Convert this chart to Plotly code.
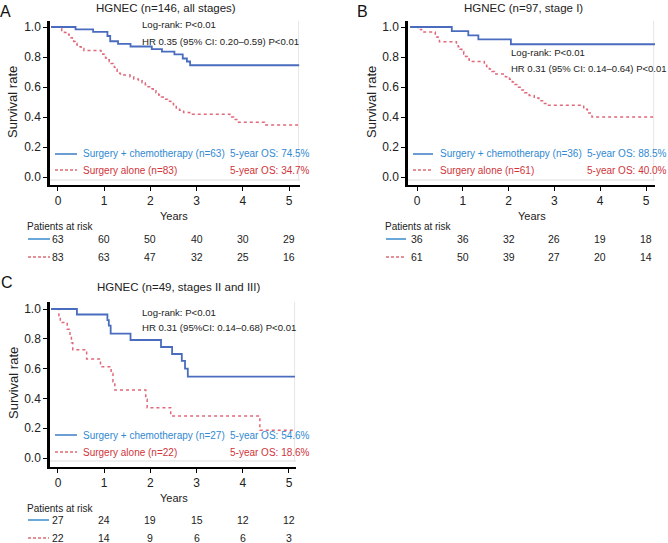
import plotly.graph_objects as go

W, H = 668, 543
FONT = "Liberation Sans, Arial, Helvetica, sans-serif"

# ---------------- data ----------------
years = [0, 1, 2, 3, 4, 5]
y_ticks = [0.0, 0.2, 0.4, 0.6, 0.8, 1.0]

# Panel A: all stages
tA_chemo = [-0.15, 0.38, 0.76, 1.07, 1.13, 1.30, 1.57, 2.03, 2.25, 2.52, 2.70, 2.79, 2.86, 5.22]
sA_chemo = [1.0, 0.984, 0.968, 0.94, 0.905, 0.888, 0.870, 0.853, 0.836, 0.818, 0.79, 0.77, 0.745, 0.745]
tA_surg = [-0.15, 0.03, 0.08, 0.14, 0.19, 0.24, 0.28, 0.31, 0.34, 0.37, 0.41, 0.45, 0.50, 0.56,
           0.93, 0.97, 1.00, 1.03, 1.07, 1.11, 1.15, 1.19, 1.22, 1.25, 1.28, 1.31, 1.35, 1.56,
           1.64, 1.74, 1.82, 1.89, 1.95, 2.00, 2.06, 2.12, 2.18, 2.24, 2.30, 2.37, 2.44, 2.50,
           2.56, 2.63, 2.72, 2.85, 3.72, 3.80, 3.87, 4.47, 5.22]
sA_surg = [1.0, 0.988, 0.976, 0.964, 0.952, 0.940, 0.928, 0.916, 0.904, 0.892, 0.880, 0.868, 0.856, 0.843,
           0.831, 0.819, 0.806, 0.794, 0.781, 0.769, 0.756, 0.744, 0.731, 0.718, 0.705, 0.692, 0.680, 0.667,
           0.654, 0.641, 0.628, 0.615, 0.602, 0.588, 0.575, 0.561, 0.547, 0.533, 0.519, 0.505, 0.490, 0.475,
           0.460, 0.445, 0.430, 0.418, 0.400, 0.383, 0.365, 0.347, 0.347]
riskA_chemo = [63, 60, 50, 40, 30, 29]
riskA_surg = [83, 63, 47, 32, 25, 16]

# Panel B: stage I
tB_chemo = [-0.15, 0.76, 1.12, 1.34, 2.05, 5.2]
sB_chemo = [1.0, 0.972, 0.944, 0.917, 0.885, 0.885]
tB_surg = [-0.15, 0.02, 0.10, 0.40, 0.43, 0.46, 0.49, 0.86, 0.90, 0.94, 0.98, 1.02, 1.06, 1.10, 1.14,
           1.47, 1.52, 1.58, 1.64, 1.69, 1.93, 2.02, 2.08, 2.14, 2.20, 2.27, 2.35, 2.45, 2.56, 2.66,
           2.76, 2.85, 3.64, 3.72, 3.82, 5.2]
sB_surg = [1.0, 0.984, 0.967, 0.951, 0.934, 0.918, 0.902, 0.885, 0.869, 0.852, 0.836, 0.820, 0.803, 0.787, 0.770,
           0.754, 0.737, 0.720, 0.703, 0.686, 0.669, 0.652, 0.634, 0.616, 0.598, 0.580, 0.562, 0.544, 0.526, 0.508,
           0.490, 0.478, 0.452, 0.426, 0.400, 0.400]
riskB_chemo = [36, 36, 32, 26, 19, 18]
riskB_surg = [61, 50, 39, 27, 20, 14]

# Panel C: stages II and III
tC_chemo = [-0.15, 0.41, 1.07, 1.10, 1.14, 1.57, 2.23, 2.47, 2.68, 2.75, 2.81, 5.13]
sC_chemo = [1.0, 0.963, 0.926, 0.889, 0.835, 0.792, 0.745, 0.698, 0.652, 0.600, 0.546, 0.546]
tC_surg = [-0.15, 0.02, 0.05, 0.20, 0.26, 0.29, 0.32, 0.62, 0.92, 1.15, 1.19, 1.23, 1.90, 1.93, 2.44, 4.37, 5.13]
sC_surg = [1.0, 0.955, 0.909, 0.864, 0.818, 0.773, 0.727, 0.665, 0.613, 0.567, 0.511, 0.456, 0.395, 0.338,
           0.282, 0.186, 0.186]
riskC_chemo = [27, 24, 19, 15, 12, 12]
riskC_surg = [22, 14, 9, 6, 6, 3]

titles = ["HGNEC (n=146, all stages)", "HGNEC (n=97, stage I)", "HGNEC (n=49, stages II and III)"]
letters = ["A", "B", "C"]
logrank = ["Log-rank: P<0.01", "Log-rank: P<0.01", "Log-rank: P<0.01"]
hr_text = ["HR 0.35 (95% CI: 0.20–0.59) P<0.01", "HR 0.31 (95% CI: 0.14–0.64) P<0.01",
           "HR 0.31 (95%CI: 0.14–0.68) P<0.01"]
leg_chemo = ["Surgery + chemotherapy (n=63)", "Surgery + chemotherapy (n=36)", "Surgery + chemotherapy (n=27)"]
leg_surg = ["Surgery alone (n=83)", "Surgery alone (n=61)", "Surgery alone (n=22)"]
os_chemo = ["5-year OS: 74.5%", "5-year OS: 88.5%", "5-year OS: 54.6%"]
os_surg = ["5-year OS: 34.7%", "5-year OS: 40.0%", "5-year OS: 18.6%"]

# ---------------- style ----------------
BLUE_CURVE = "#4a6cbf"
RED_CURVE = "#e0687a"
BLUE_TXT = "#3189d2"
RED_TXT = "#d0343a"
BLUE_LEG = "#3a7cc4"
RED_LEG = "#c8242c"
BLUE_RISK = "#5a9fd6"
TXT = "#222222"
SMALL_DASH = "3px,2px"


def PX(x):
    return x / W


def PY(y):
    return 1 - y / H


# layout geometry per panel (pixels)
geo = [
    dict(xl=50, xr=300, yt=21, yb=185, xr0=-0.173, xr1=5.238, yr0=-0.0533, yr1=1.04,
         title=(166, 8), letter=(5, 12), ylab=(13, 102), years=(174, 216), par=(25, 227),
         r1=239, r2=257, rl=(28, 50), lr=(140, 25, 41), leg=(55, 77, 81, 228, 154, 170)),
    dict(xl=408, xr=655, yt=21, yb=185, xr0=-0.1965, xr1=5.1965, yr0=-0.0533, yr1=1.04,
         title=(523, 8), letter=(362, 12), ylab=(372, 102), years=(532, 216), par=(383, 227),
         r1=239, r2=257, rl=(386, 406), lr=(509, 53, 68), leg=(413, 433, 438, 585, 154, 170)),
    dict(xl=50, xr=296, yt=302, yb=467, xr0=-0.173, xr1=5.152, yr0=-0.0604, yr1=1.047,
         title=(178, 287), letter=(7, 282), ylab=(13, 383), years=(174, 498), par=(25, 508),
         r1=520, r2=538, rl=(28, 49), lr=(140, 312, 327), leg=(55, 77, 81, 228, 435, 452)),
]

curves = [(tA_chemo, sA_chemo, tA_surg, sA_surg, riskA_chemo, riskA_surg),
          (tB_chemo, sB_chemo, tB_surg, sB_surg, riskB_chemo, riskB_surg),
          (tC_chemo, sC_chemo, tC_surg, sC_surg, riskC_chemo, riskC_surg)]

fig = go.Figure()
annotations = []
shapes = []
layout_axes = {}

for i, (g, c) in enumerate(zip(geo, curves)):
    sfx = "" if i == 0 else str(i + 1)
    xa, ya = "x" + sfx, "y" + sfx
    tc, sc, ts, ss, rc, rs = c

    fig.add_trace(go.Scatter(x=ts, y=ss, mode="lines", line=dict(shape="hv", color=RED_CURVE, width=1.5, dash="dot"),
                             xaxis=xa, yaxis=ya, showlegend=False, hoverinfo="skip"))
    fig.add_trace(go.Scatter(x=tc, y=sc, mode="lines", line=dict(shape="hv", color=BLUE_CURVE, width=1.8),
                             xaxis=xa, yaxis=ya, showlegend=False, hoverinfo="skip"))

    layout_axes["xaxis" + sfx] = dict(
        domain=[PX(g["xl"]), PX(g["xr"])], range=[g["xr0"], g["xr1"]], anchor=ya,
        showline=True, linecolor="black", linewidth=2, ticks="outside", ticklen=4, tickwidth=1.3,
        tickcolor="black", tickvals=years, ticktext=[str(v) for v in years], showgrid=False, zeroline=False,
        tickfont=dict(size=12, family=FONT, color=TXT), fixedrange=True)
    layout_axes["yaxis" + sfx] = dict(
        domain=[PY(g["yb"]), PY(g["yt"])], range=[g["yr0"], g["yr1"]], anchor=xa,
        showline=True, linecolor="black", linewidth=2.5, ticks="outside", ticklen=4, tickwidth=1.3,
        tickcolor="black", tickvals=y_ticks, tickformat=".1f", showgrid=False, zeroline=False,
        tickfont=dict(size=12, family=FONT, color=TXT), fixedrange=True)

    # light grey inner frame (baseline and right edge)
    shapes.append(dict(type="line", xref=xa, yref=ya, x0=g["xr0"], x1=g["xr1"], y0=-0.02, y1=-0.02,
                       line=dict(color="#dedede", width=1), layer="below"))
    shapes.append(dict(type="line", xref=xa, yref=ya, x0=g["xr1"] - 0.03, x1=g["xr1"] - 0.03, y0=-0.02,
                       y1=g["yr1"], line=dict(color="#e6e6e6", width=1), layer="below"))

    def ann(x, y, text, size, color=TXT, xanchor="left", angle=0, xref="paper"):
        annotations.append(dict(x=x, y=y, xref=xref, yref="paper", text=text, showarrow=False,
                                xanchor=xanchor, yanchor="middle", textangle=angle,
                                font=dict(size=size, family=FONT, color=color)))

    ann(PX(g["letter"][0]), PY(g["letter"][1]), letters[i], 16, "#111111", "center")
    ann(PX(g["title"][0]), PY(g["title"][1]), titles[i], 11.5, TXT, "center")
    ann(PX(g["ylab"][0]), PY(g["ylab"][1]), "Survival rate", 13, TXT, "center", -90)
    ann(PX(g["years"][0]), PY(g["years"][1]), "Years", 11, TXT, "center")
    ann(PX(g["par"][0]), PY(g["par"][1]), "Patients at risk", 10, TXT, "left")
    lx, ly1, ly2 = g["lr"]
    ann(PX(lx), PY(ly1), logrank[i], 9.6, TXT, "left")
    ann(PX(lx), PY(ly2), hr_text[i], 9.5 if i == 1 else 9.6, TXT, "left")

    l0, l1, tx, ox, y1, y2 = g["leg"]
    shapes.append(dict(type="line", xref="paper", yref="paper", x0=PX(l0), x1=PX(l1), y0=PY(y1), y1=PY(y1),
                       line=dict(color=BLUE_LEG, width=1.5)))
    shapes.append(dict(type="line", xref="paper", yref="paper", x0=PX(l0), x1=PX(l1), y0=PY(y2), y1=PY(y2),
                       line=dict(color=RED_LEG, width=1.2, dash=SMALL_DASH)))
    ann(PX(tx), PY(y1), leg_chemo[i], 10, BLUE_TXT, "left")
    ann(PX(tx), PY(y2), leg_surg[i], 10, RED_TXT, "left")
    ann(PX(ox), PY(y1), os_chemo[i], 10, BLUE_TXT, "left")
    ann(PX(ox), PY(y2), os_surg[i], 10, RED_TXT, "left")

    # risk table
    r0, r1 = g["rl"]
    shapes.append(dict(type="line", xref="paper", yref="paper", x0=PX(r0), x1=PX(r1), y0=PY(g["r1"]),
                       y1=PY(g["r1"]), line=dict(color=BLUE_RISK, width=1.8)))
    shapes.append(dict(type="line", xref="paper", yref="paper", x0=PX(r0), x1=PX(r1), y0=PY(g["r2"]),
                       y1=PY(g["r2"]), line=dict(color=RED_LEG, width=1.2, dash=SMALL_DASH)))
    for yr, a, b in zip(years, rc, rs):
        ann(yr, PY(g["r1"]), str(a), 10.5, TXT, "center", xref=xa)
        ann(yr, PY(g["r2"]), str(b), 10.5, TXT, "center", xref=xa)

fig.update_layout(
    width=W, height=H, margin=dict(l=0, r=0, t=0, b=0),
    paper_bgcolor="white", plot_bgcolor="white",
    annotations=annotations, shapes=shapes, showlegend=False,
    font=dict(family=FONT, size=11, color=TXT),
    **layout_axes,
)

fig.write_html("out.html", config={"displayModeBar": False},
               post_script="document.body.style.margin='0';")
